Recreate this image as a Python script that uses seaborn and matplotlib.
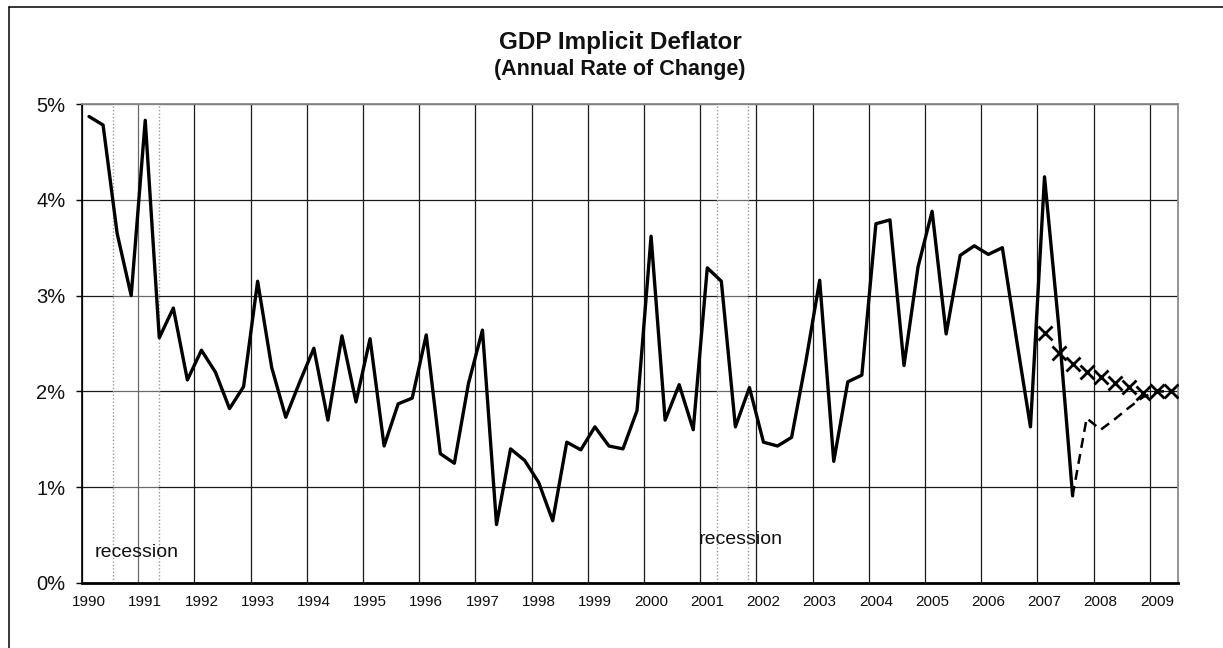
import numpy as np
import pandas as pd
import matplotlib
matplotlib.use("Agg")
import matplotlib.pyplot as plt
from matplotlib.lines import Line2D
from matplotlib.transforms import ScaledTranslation
import seaborn as sns

# Quarterly GDP implicit deflator, annual rate of change (%), 1990Q1 - 2007Q3
actual_start = 1990.125
actual = [
    4.87, 4.78, 3.65, 3.00,   # 1990
    4.83, 2.56, 2.87, 2.12,   # 1991
    2.43, 2.20, 1.82, 2.05,   # 1992
    3.15, 2.25, 1.73, 2.10,   # 1993
    2.45, 1.70, 2.58, 1.89,   # 1994
    2.55, 1.43, 1.87, 1.93,   # 1995
    2.59, 1.35, 1.25, 2.08,   # 1996
    2.64, 0.61, 1.40, 1.28,   # 1997
    1.05, 0.65, 1.47, 1.39,   # 1998
    1.63, 1.43, 1.40, 1.80,   # 1999
    3.62, 1.70, 2.07, 1.60,   # 2000
    3.29, 3.15, 1.63, 2.04,   # 2001
    1.47, 1.43, 1.52, 2.30,   # 2002
    3.16, 1.27, 2.10, 2.17,   # 2003
    3.75, 3.79, 2.27, 3.30,   # 2004
    3.88, 2.60, 3.42, 3.52,   # 2005
    3.43, 3.50, 2.55, 1.63,   # 2006
    4.24, 2.70, 0.91,         # 2007
]

# Projection path (dashed), 2007Q3 - 2009Q2
projection_start = 2007.625
projection = [0.91, 1.72, 1.60, 1.71, 1.83, 1.94, 2.00, 2.00]

# Alternative outlook (x markers), 2007Q1 - 2009Q2
outlook_start = 2007.125
outlook = [2.61, 2.40, 2.29, 2.20, 2.15, 2.09, 2.05, 1.98, 2.00, 2.00]

# Recession periods (fractional years)
recession_start = [1990.55, 2001.30]
recession_end = [1991.37, 2001.85]
recession_label_pos = [(1990.98, 0.32), (2001.71, 0.45)]

years = list(range(1990, 2010))
y_ticks = [0, 1, 2, 3, 4, 5]


def quarterly_frame(start, values):
    return pd.DataFrame({"t": start + 0.25 * np.arange(len(values)), "v": values})


df_actual = quarterly_frame(actual_start, actual)
df_proj = quarterly_frame(projection_start, projection)
df_outlook = quarterly_frame(outlook_start, outlook)

sns.set_theme(style="white")
plt.rcParams["font.family"] = ["Liberation Sans", "DejaVu Sans"]

W, H = 1223, 648
fig = plt.figure(figsize=(W / 100, H / 100), dpi=100)
fig.patch.set_facecolor("white")
ax = fig.add_axes([82 / W, 1 - 583 / H, (1178 - 82) / W, (583 - 104) / H])
ax.set_facecolor("white")

# Grid
ax.set_axisbelow(True)
ax.set_xlim(1990, 2009.5)
ax.set_ylim(0, 5)
ax.set_xticks(years)
ax.set_xticklabels([str(y) for y in years])
ax.set_yticks(y_ticks)
ax.set_yticklabels([f"{v}%" for v in y_ticks])
ax.grid(True, which="major", axis="both", color="#1a1a1a", linewidth=0.9)

# Recession bands: pale wash over the grid with dotted edges
for s, e in zip(recession_start, recession_end):
    ax.axvspan(s, e, facecolor="white", alpha=0.35, linewidth=0, zorder=1.5)
    for xv in (s, e):
        ax.axvline(xv, color="#9a9a9a", linestyle=(0, (1, 1.5)), linewidth=1.0, zorder=1.6)
for x, y in recession_label_pos:
    ax.text(x, y, "recession", ha="center", va="center", fontsize=14, color="#111", zorder=3)

# Series
sns.lineplot(data=df_actual, x="t", y="v", ax=ax, color="black", linewidth=2.4,
             solid_joinstyle="round", solid_capstyle="round", zorder=4)
sns.lineplot(data=df_proj, x="t", y="v", ax=ax, color="black", linewidth=1.8,
             linestyle=(0, (4, 2.5)), zorder=4)
sns.lineplot(data=df_outlook, x="t", y="v", ax=ax, color="black", linestyle="none",
             marker="x", markersize=10, markeredgewidth=2.0,
             markeredgecolor="black", markerfacecolor="black", zorder=5)

ax.set_xlabel("")
ax.set_ylabel("")

# Spines
for side in ("left", "bottom"):
    ax.spines[side].set_visible(True)
    ax.spines[side].set_color("black")
ax.spines["left"].set_linewidth(1.2)
ax.spines["bottom"].set_linewidth(2.0)
for side in ("top", "right"):
    ax.spines[side].set_color("#8a8a8a")
    ax.spines[side].set_linestyle((0, (1, 1)))
    ax.spines[side].set_linewidth(1.3)

ax.tick_params(axis="y", which="major", left=True, length=4, width=1, color="black",
               direction="out", pad=8, labelsize=14.5, labelcolor="#111")
ax.tick_params(axis="x", which="major", bottom=False, length=0, pad=9,
               labelsize=11, labelcolor="#111")
shift = ScaledTranslation(7 / 100, 0, fig.dpi_scale_trans)
for lbl in ax.get_xticklabels():
    lbl.set_transform(lbl.get_transform() + shift)

# Titles
fig.text(620 / W, 1 - 42 / H, "GDP Implicit Deflator", ha="center", va="center",
         fontsize=17.5, fontweight="bold", color="#111")
fig.text(620 / W, 1 - 70 / H, "(Annual Rate of Change)", ha="center", va="center",
         fontsize=15.5, fontweight="bold", color="#111")

# Outer frame (left and top edges)
fig.add_artist(Line2D([9 / W, 9 / W], [0, 1 - 7 / H], transform=fig.transFigure,
                      color="black", linewidth=1.1))
fig.add_artist(Line2D([9 / W, 1], [1 - 7 / H, 1 - 7 / H], transform=fig.transFigure,
                      color="black", linewidth=1.1))

fig.savefig("out.png", dpi=100, facecolor="white")
